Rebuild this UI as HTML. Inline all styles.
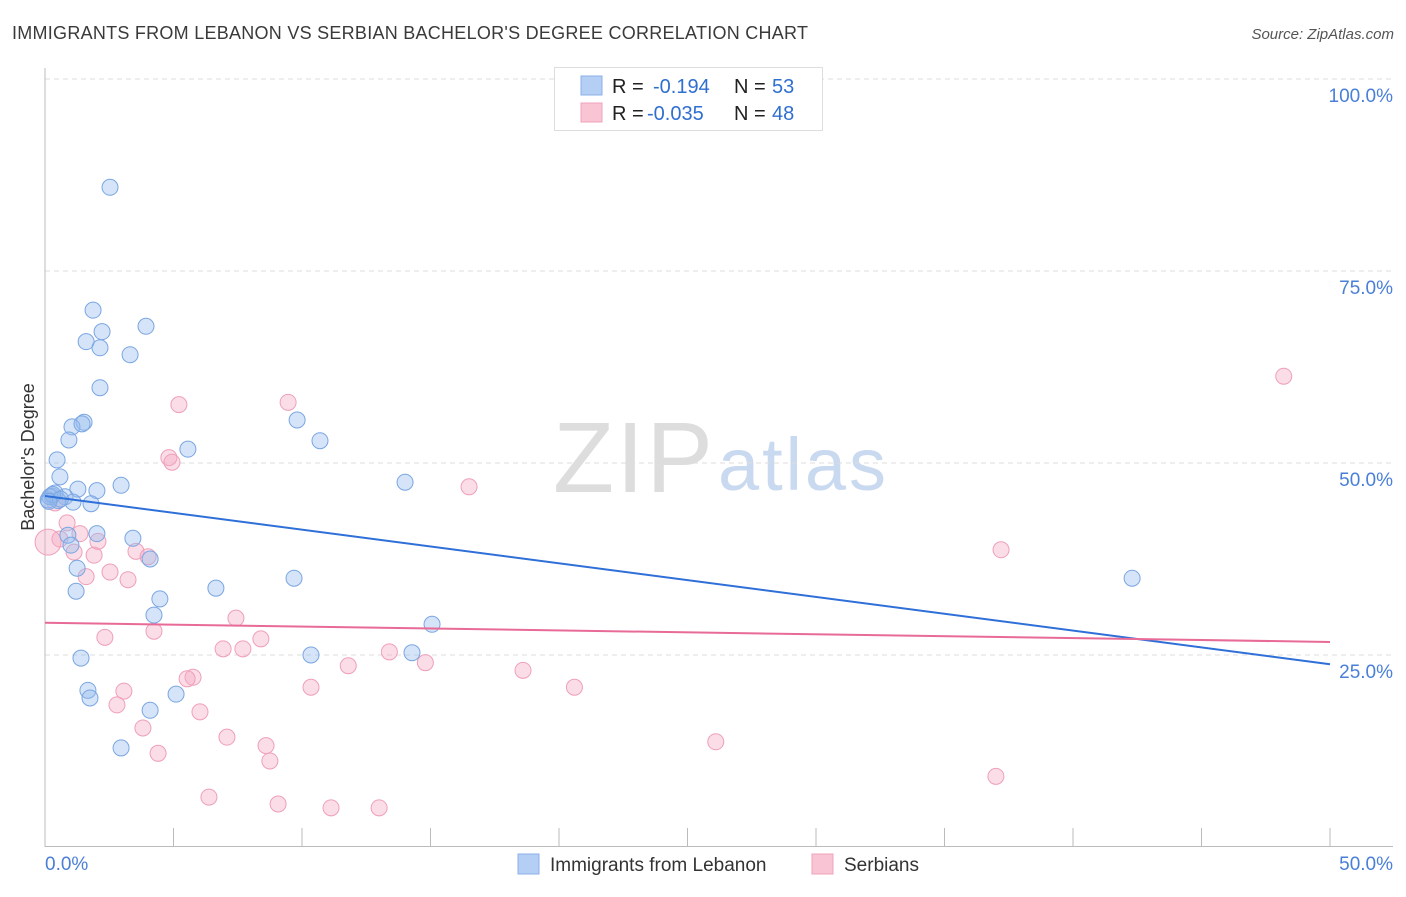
<!DOCTYPE html>
<html><head><meta charset="utf-8"><style>
body{margin:0;background:#fff;font-family:"Liberation Sans",sans-serif;}
svg text{font-family:"Liberation Sans",sans-serif;}
</style></head><body>
<svg id="chart" width="1406" height="892">
<text x="12" y="39" font-size="18" fill="#3a3a3a" textLength="796">IMMIGRANTS FROM LEBANON VS SERBIAN BACHELOR'S DEGREE CORRELATION CHART</text>
<text x="1394" y="39" font-size="15" fill="#555" font-style="italic" text-anchor="end">Source: ZipAtlas.com</text>
<g><text x="553" y="492" font-size="100" fill="#ddd" textLength="160">ZIP</text><text x="718" y="490" font-size="74" fill="#c9d9f0" textLength="168">atlas</text></g>
<g id="grid"></g>
<g id="axes"></g>
<g id="pts"></g>
<g id="trends"></g>
<text transform="translate(34,457) rotate(-90)" font-size="18" fill="#333" text-anchor="middle">Bachelor's Degree</text>
<text x="45" y="870" font-size="19" fill="#4a7fd6">0.0%</text>
<text x="1393" y="870" font-size="19" fill="#4a7fd6" text-anchor="end">50.0%</text>
<g>
<rect x="554.5" y="67.5" width="268" height="63" fill="#fff" stroke="#ddd"/>
<rect x="581" y="76" width="21" height="19" fill="#b5cef4" stroke="#8ab0ea"/>
<rect x="581" y="103" width="21" height="19" fill="#f9c5d5" stroke="#f0a3bb"/>
<text x="612" y="93" font-size="20" fill="#222">R = <tspan fill="#2f6fd0" x="653">-0.194</tspan><tspan fill="#222" x="734">N = </tspan><tspan fill="#2f6fd0" x="772">53</tspan></text>
<text x="612" y="120" font-size="20" fill="#222">R = <tspan fill="#2f6fd0" x="647">-0.035</tspan><tspan fill="#222" x="734">N = </tspan><tspan fill="#2f6fd0" x="772">48</tspan></text>
</g>
<g>
<rect x="518" y="854" width="21" height="20" fill="#b5cef4" stroke="#8ab0ea"/>
<text x="550" y="871" font-size="19" fill="#333">Immigrants from Lebanon</text>
<rect x="812" y="854" width="21" height="20" fill="#f9c5d5" stroke="#f0a3bb"/>
<text x="844" y="871" font-size="19" fill="#333">Serbians</text>
</g>
</svg>
<script>
const yTicks=[25,50,75,100];
const blueX=[2.53,1.87,2.22,3.93,1.60,2.14,3.31,2.14,9.81,1.52,1.05,1.44,0.93,10.7,5.56,0.47,0.58,14.01,2.96,1.28,2.02,0.27,0.78,0.12,0.51,1.09,1.79,2.02,0.89,3.42,1.01,4.09,1.25,9.69,42.3,6.65,1.21,4.47,4.24,15.06,10.35,14.28,1.40,1.67,5.10,1.75,4.09,2.96,0.39,0.19,0.3,0.6,0.15];
const blueY=[85.9,69.9,67.1,67.8,65.8,65.0,64.1,59.8,55.6,55.3,54.7,55.1,53.0,52.9,51.8,50.4,48.2,47.5,47.1,46.6,46.4,45.7,45.6,45.2,45.1,44.9,44.7,40.8,40.6,40.2,39.3,37.5,36.3,35.0,35.0,33.7,33.3,32.3,30.2,29.0,25.0,25.3,24.6,20.4,19.9,19.4,17.8,12.9,46.1,45.6,45.9,45.3,45.0];
const pinkX=[48.2,9.46,5.21,4.82,4.94,16.5,0.86,0.39,1.36,0.58,1.13,1.91,2.06,3.54,4.01,37.2,2.53,1.60,3.23,7.43,4.24,2.33,8.40,6.93,7.70,13.4,14.8,11.8,18.6,5.76,5.53,3.07,10.35,20.6,2.80,6.03,3.81,7.08,8.60,26.1,4.40,8.75,37.0,6.38,9.07,11.13,13.0,0.12];
const pinkY=[61.3,57.9,57.6,50.7,50.1,46.9,42.2,44.8,40.8,40.1,38.4,38.0,39.8,38.5,37.8,38.7,35.8,35.2,34.8,29.8,28.1,27.3,27.1,25.8,25.8,25.4,24.0,23.6,23.0,22.1,21.9,20.3,20.8,20.8,18.5,17.6,15.5,14.3,13.2,13.7,12.2,11.2,9.2,6.5,5.6,5.1,5.1,39.7];
const blueTrend=[45.7,23.8];
const pinkTrend=[29.2,26.7];
const NS='http://www.w3.org/2000/svg';
const X=v=>45+v*25.7, Y=v=>847-v*7.68;
function mk(tag,attrs,parent){const e=document.createElementNS(NS,tag);for(const k in attrs)e.setAttribute(k,attrs[k]);parent.appendChild(e);return e;}
const grid=document.getElementById('grid');
yTicks.forEach(t=>{
 const l=mk('line',{x1:45,x2:1393,y1:Y(t),y2:Y(t),stroke:'#ddd','stroke-dasharray':'5,4'},grid);
 
 
 const tx=mk('text',{x:1393,y:Y(t)+23,'font-size':19,fill:'#4a7fd6','text-anchor':'end'},grid);
 tx.textContent=t.toFixed(1)+'%';
 
 
});
const axes=document.getElementById('axes');
mk('line',{x1:45,x2:45,y1:68,y2:847,stroke:'#bbb'},axes);
mk('line',{x1:45,x2:1393,y1:846.5,y2:846.5,stroke:'#bbb'},axes);
for(let i=0;i<=10;i++){const t=mk('line',{x1:X(i*5),x2:X(i*5),y1:828,y2:847,stroke:'#bbb'},axes);
 
 }
const pts=document.getElementById('pts');
pinkX.forEach((x,i)=>{const c=mk('circle',{cx:X(x),cy:Y(pinkY[i]),r:i==pinkX.length-1?13:8,fill:'rgba(246,170,195,0.4)',stroke:'#ef9fba','stroke-width':1},pts);
 
 });
blueX.forEach((x,i)=>{const c=mk('circle',{cx:X(x),cy:Y(blueY[i]),r:8,fill:'rgba(150,188,238,0.4)',stroke:'#7aa6e2','stroke-width':1},pts);
 
 });
const tr=document.getElementById('trends');
const b=mk('line',{x1:X(0),x2:X(50),y1:Y(blueTrend[0]),y2:Y(blueTrend[1]),stroke:'#2f6fd8','stroke-width':2},tr);


const p=mk('line',{x1:X(0),x2:X(50),y1:Y(pinkTrend[0]),y2:Y(pinkTrend[1]),stroke:'#e86a97','stroke-width':2},tr);


</script>
</body></html>
